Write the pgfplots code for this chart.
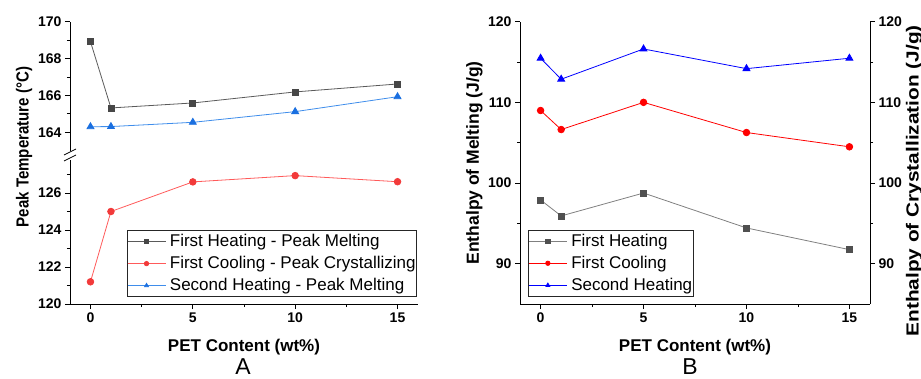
\documentclass[border=0pt]{standalone}
\usepackage{pgfplots}
\pgfplotsset{compat=1.18}
\usepackage{fontspec}
\setmainfont{Liberation Sans}
\definecolor{fhAline}{HTML}{5A5A5A}
\definecolor{fhAmark}{HTML}{474747}
\definecolor{fcAline}{HTML}{FF5A5A}
\definecolor{fcAmark}{HTML}{F23A3A}
\definecolor{shAline}{HTML}{3F8DEB}
\definecolor{shAmark}{HTML}{1A6FE0}
\definecolor{fhBline}{HTML}{808080}
\definecolor{fhBmark}{HTML}{505050}
\definecolor{fcB}{HTML}{FF0000}
\definecolor{shB}{HTML}{0000FF}
\pgfplotsset{
  myax/.style={
    scale only axis, enlargelimits=false, xmin=-1, xmax=16,
    tick align=outside, major tick length=5pt, minor tick length=3pt,
    axis line style={-, line width=0.8pt, black},
    every outer x axis line/.append style={-},
    every outer y axis line/.append style={-},
    tick style={line width=0.8pt, black},
    xtick={0,5,10,15}, minor xtick={2.5,7.5,12.5},
    /pgf/number format/assume math mode=true,
    ticklabel style={font=\fontsize{14}{14}\selectfont\bfseries},
    legend style={font=\fontsize{17}{20}\selectfont, draw=black!85, line width=0.8pt,
      inner sep=0pt, column sep=3pt,
      nodes={inner sep=1pt, text height=15pt, text depth=5pt},
      cells={anchor=west}},
    legend image code/.code={\draw[mark repeat=2,mark phase=2,mark size=2.2pt]
      plot coordinates {(0pt,0pt)(19pt,0pt)(38pt,0pt)};},
    xlabel style={font=\fontsize{17}{17}\selectfont\bfseries, at={(axis description cs:0.5,0)}, anchor=center, yshift=-42.7pt},
  },
  fhA/.style={color=fhAline, line width=0.8pt, mark=square*, mark size=3pt, mark options={fill=fhAmark, draw=fhAmark}},
  fcA/.style={color=fcAline, line width=0.8pt, mark=*, mark size=3.3pt, mark options={fill=fcAmark, draw=fcAmark}},
  shA/.style={color=shAline, line width=0.8pt, mark=triangle*, mark size=4pt, mark options={fill=shAmark, draw=shAmark}},
  fhB/.style={color=fhBline, line width=0.8pt, mark=square*, mark size=3pt, mark options={fill=fhBmark, draw=fhBmark}},
  fcB/.style={color=fcB, line width=0.8pt, mark=*, mark size=3.3pt, mark options={fill=fcB, draw=fcB}},
  shB/.style={color=shB, line width=0.8pt, mark=triangle*, mark size=4pt, mark options={fill=shB, draw=shB}},
}
\begin{document}
\begin{tikzpicture}
\useasboundingbox (0pt,0pt) rectangle (921pt,378pt);
% ---------- Panel A upper ----------
\begin{axis}[axis y line=left, hide x axis, myax,
  at={(70pt,227.3pt)}, anchor=south west, width=348pt, height=129pt,
  ymin=163, ymax=170, ytick={164,166,168,170}, minor ytick={165,167,169}]
\addplot[fhA] coordinates {(0,168.92) (1,165.32) (5,165.59) (10,166.19) (15,166.62)};
\addplot[shA] coordinates {(0,164.30) (1,164.31) (5,164.54) (10,165.12) (15,165.93)};
\end{axis}
% ---------- Panel A lower ----------
\begin{axis}[axis x line=bottom, axis y line=left, myax,
  at={(70pt,74pt)}, anchor=south west, width=348pt, height=144.3pt,
  ymin=120, ymax=127.8, ytick={120,122,124,126}, minor ytick={121,123,125,127},
  xlabel={PET Content (wt\%)},
  ylabel={\scalebox{0.86}[1]{Peak Temperature (°C)}},
  ylabel style={font=\fontsize{17.5}{17.5}\selectfont\bfseries, at={(axis description cs:-0.132,1.088)}, anchor=center},
  legend style={at={(0.997,0.0485)}, anchor=south east}]
\addlegendimage{fhA}
\addlegendentry{First Heating - Peak Melting}
\addplot[fcA] coordinates {(0,121.2) (1,125.0) (5,126.6) (10,126.94) (15,126.61)};
\addlegendentry{First Cooling - Peak Crystallizing}
\addlegendimage{shA}
\addlegendentry{Second Heating - Peak Melting}
\end{axis}
\draw[line width=0.8pt] (64pt,223pt) -- (76pt,229pt);
\draw[line width=0.8pt] (64pt,217pt) -- (76pt,223pt);
\node[font=\fontsize{23}{23}\selectfont, anchor=base, inner sep=0pt] at (243pt,4pt) {A};
% ---------- Panel B ----------
\begin{axis}[axis x line=bottom, axis y line=left, myax,
  at={(520pt,74pt)}, anchor=south west, width=350pt, height=282.3pt,
  ymin=85, ymax=120, ytick={90,100,110,120}, minor ytick={95,105,115},
  xlabel={PET Content (wt\%)},
  ylabel={Enthalpy of Melting (J/g)},
  ylabel style={font=\fontsize{17.5}{17.5}\selectfont\bfseries, at={(axis description cs:-0.1306,0.5)}, anchor=center},
  legend style={at={(0.023,0.026)}, anchor=south west}]
\addplot[fhB] coordinates {(0,97.9) (1,95.92) (5,98.76) (10,94.43) (15,91.74)};
\addlegendentry{First Heating}
\addplot[fcB] coordinates {(0,108.99) (1,106.63) (5,110.0) (10,106.26) (15,104.49)};
\addlegendentry{First Cooling}
\addplot[shB] coordinates {(0,115.47) (1,112.87) (5,116.62) (10,114.18) (15,115.47)};
\addlegendentry{Second Heating}
\end{axis}
\begin{axis}[axis y line=right, hide x axis, myax,
  at={(520pt,74pt)}, anchor=south west, width=350pt, height=282.3pt,
  ymin=85, ymax=120, ytick={90,100,110,120}, minor ytick={95,105,115},
  ylabel={\scalebox{1.19}[1]{Enthalpy of Crystallization (J/g)}},
  ylabel style={font=\fontsize{17.5}{17.5}\selectfont\bfseries, at={(axis description cs:1.126,0.436)}, anchor=center}]
\end{axis}
\node[font=\fontsize{23}{23}\selectfont, anchor=base, inner sep=0pt] at (690pt,4pt) {B};
\end{tikzpicture}
\end{document}
